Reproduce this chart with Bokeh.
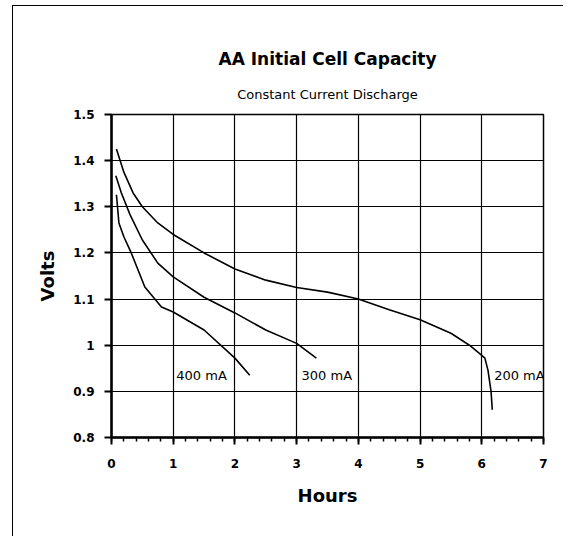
from bokeh.plotting import figure
from bokeh.models import Title, Range1d, FixedTicker, CustomJSTickFormatter, Label
from bokeh.embed import file_html
from bokeh.resources import INLINE

# Discharge curves (hours, volts)
hours_200 = [0.08, 0.2, 0.35, 0.5, 0.75, 1.0, 1.5, 2.0, 2.5, 3.0, 3.5, 4.0, 4.5, 5.0, 5.5, 5.8, 6.0, 6.05, 6.1, 6.15, 6.17]
volts_200 = [1.425, 1.375, 1.33, 1.30, 1.265, 1.24, 1.20, 1.165, 1.141, 1.125, 1.115, 1.10, 1.077, 1.055, 1.026, 1.0, 0.978, 0.972, 0.946, 0.90, 0.86]

hours_300 = [0.07, 0.16, 0.3, 0.5, 0.75, 1.0, 1.5, 2.0, 2.5, 3.0, 3.32]
volts_300 = [1.367, 1.33, 1.283, 1.228, 1.178, 1.148, 1.104, 1.07, 1.033, 1.004, 0.972]

hours_400 = [0.08, 0.12, 0.2, 0.32, 0.54, 0.81, 1.0, 1.5, 2.0, 2.24]
volts_400 = [1.326, 1.265, 1.235, 1.2, 1.126, 1.083, 1.072, 1.033, 0.972, 0.935]

curve_labels = ["400 mA", "300 mA", "200 mA"]
label_x = [1.05, 3.08, 6.2]
label_y = [0.935, 0.935, 0.935]

x_ticks = [0, 1, 2, 3, 4, 5, 6, 7]
y_ticks = [0.8, 0.9, 1.0, 1.1, 1.2, 1.3, 1.4, 1.5]

FONT = "DejaVu Sans"

p = figure(frame_width=432, frame_height=323,
           min_border_left=98, min_border_right=20,
           min_border_top=108, min_border_bottom=99,
           x_range=Range1d(0, 7), y_range=Range1d(0.8, 1.5),
           output_backend="svg", toolbar_location=None, title=None)
p.margin = (5, 0, 0, 12)

p.add_layout(Title(text="Constant Current Discharge", align="center",
                   text_font=FONT, text_font_size="13px", text_font_style="normal",
                   text_color="black", standoff=25), "above")
p.add_layout(Title(text="AA Initial Cell Capacity", align="center",
                   text_font=FONT, text_font_size="17px", text_font_style="bold",
                   text_color="black", standoff=8), "above")

for xs, ys in [(hours_200, volts_200), (hours_300, volts_300), (hours_400, volts_400)]:
    p.line(xs, ys, line_color="black", line_width=1.6)

for t, lx, ly in zip(curve_labels, label_x, label_y):
    p.add_layout(Label(x=lx, y=ly, text=t, text_font=FONT, text_font_size="13px",
                       text_color="black", text_baseline="middle"))

p.xaxis.ticker = FixedTicker(ticks=x_ticks, minor_ticks=[i * 0.2 for i in range(36)])
p.yaxis.ticker = FixedTicker(ticks=y_ticks)
p.yaxis.formatter = CustomJSTickFormatter(code="return tick.toFixed(1).replace(/\\.0$/, '');")

p.xaxis.axis_label = "Hours"
p.yaxis.axis_label = "Volts"
for ax in (p.xaxis, p.yaxis):
    ax.axis_line_color = "black"
    ax.axis_line_width = 2.5
    ax.major_tick_line_color = "black"
    ax.major_tick_line_width = 2
    ax.major_tick_out = 7
    ax.major_tick_in = 0
    ax.major_label_text_font = FONT
    ax.major_label_text_font_style = "bold"
    ax.major_label_text_font_size = "12px"
    ax.major_label_text_color = "black"
    ax.axis_label_text_font = FONT
    ax.axis_label_text_font_style = "bold"
    ax.axis_label_text_font_size = "18px"
    ax.axis_label_text_color = "black"
p.xaxis.minor_tick_line_color = "black"
p.xaxis.minor_tick_line_width = 1.5
p.xaxis.minor_tick_out = 4
p.xaxis.minor_tick_in = 0
p.yaxis.minor_tick_line_color = None
p.xaxis.major_label_standoff = 14
p.xaxis.axis_label_standoff = 14
p.yaxis.major_label_standoff = 10
p.yaxis.axis_label_standoff = 12

p.xgrid.grid_line_color = "black"
p.ygrid.grid_line_color = "black"
p.xgrid.grid_line_width = 1.2
p.ygrid.grid_line_width = 1.2
p.xgrid.ticker = FixedTicker(ticks=x_ticks)
p.ygrid.ticker = FixedTicker(ticks=y_ticks)

p.outline_line_color = "black"
p.outline_line_width = 1.5
p.background_fill_color = "white"
p.border_fill_color = "white"
p.styles = {"border-left": "1.5px solid black", "border-top": "1.5px solid black"}

open("out.html", "w").write(file_html(p, INLINE))
